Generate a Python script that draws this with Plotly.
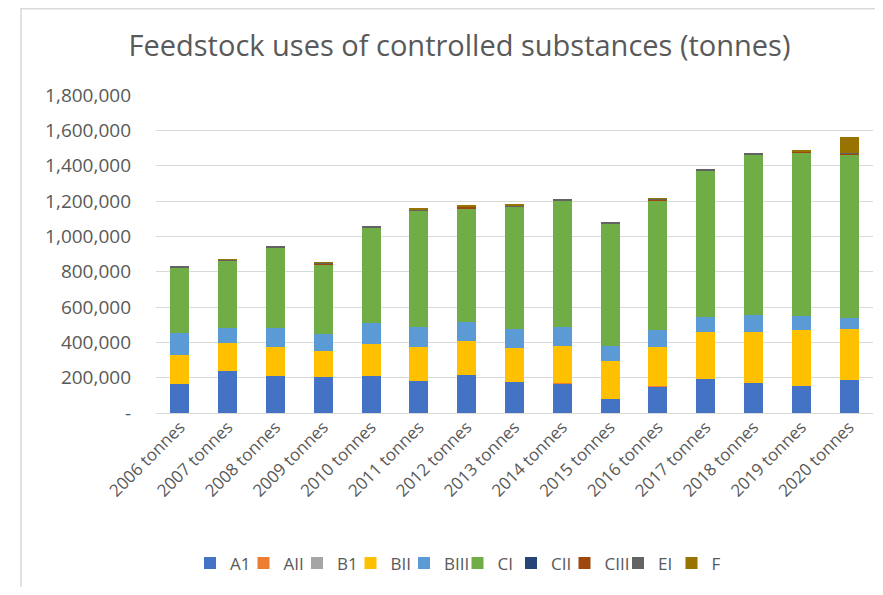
import plotly.graph_objects as go

years = ["2006 tonnes", "2007 tonnes", "2008 tonnes", "2009 tonnes", "2010 tonnes",
         "2011 tonnes", "2012 tonnes", "2013 tonnes", "2014 tonnes", "2015 tonnes",
         "2016 tonnes", "2017 tonnes", "2018 tonnes", "2019 tonnes", "2020 tonnes"]

A1   = [163000, 236000, 210000, 202000, 210000, 181000, 214000, 176000, 165000, 82000, 151000, 195000, 170000, 151000, 185000]
AII  = [0, 0, 0, 0, 0, 0, 0, 0, 3000, 0, 1000, 0, 0, 0, 0]
B1   = [0, 0, 0, 0, 0, 0, 0, 0, 0, 0, 0, 0, 0, 0, 0]
BII  = [164000, 159000, 164000, 148000, 178000, 193000, 192000, 192000, 214000, 213000, 222000, 261000, 286000, 318000, 289000]
BIII = [126000, 87000, 107000, 100000, 119000, 113000, 110000, 106000, 105000, 87000, 95000, 85000, 98000, 79000, 66000]
CI   = [368000, 380000, 454000, 391000, 541000, 657000, 643000, 693000, 714000, 692000, 732000, 829000, 912000, 925000, 926000]
CII  = [0, 0, 0, 0, 0, 0, 0, 0, 0, 0, 0, 0, 0, 0, 0]
CIII = [1000, 0, 0, 8000, 1000, 4000, 8000, 1000, 0, 0, 8000, 0, 0, 8000, 5000]
EI   = [6000, 5000, 5000, 3000, 5000, 6000, 2000, 8000, 5000, 7000, 3000, 6000, 6000, 1000, 1000]
F    = [0, 1000, 0, 1000, 0, 4000, 3000, 3000, 0, 0, 1000, 0, 0, 3000, 88000]

series_names = ["A1", "AII", "B1", "BII", "BIII", "CI", "CII", "CIII", "EI", "F"]
series_values = [A1, AII, B1, BII, BIII, CI, CII, CIII, EI, F]
colors = ["#4472C4", "#ED7D31", "#A5A5A5", "#FFC000", "#5B9BD5",
          "#70AD47", "#264478", "#9E480E", "#636363", "#997300"]

ytick_vals = [0, 200000, 400000, 600000, 800000, 1000000, 1200000, 1400000, 1600000, 1800000]
ytick_text = ["-", "200,000", "400,000", "600,000", "800,000", "1,000,000",
              "1,200,000", "1,400,000", "1,600,000", "1,800,000"]

FONT = "Open Sans"
GREY = "#595959"

fig = go.Figure()
for name, vals, col in zip(series_names, series_values, colors):
    fig.add_trace(go.Bar(x=years, y=vals, name=name, marker=dict(color=col, line=dict(width=0))))

# page has an 8px body margin: work in page pixels and convert
OFF = 8
W, H = 883 - 2 * OFF, 595 - 2 * OFF
L = 156 - OFF
R = W - (873 - OFF)
T = 95 - OFF
B = H - (412.7 - OFF)
pw = W - L - R
ph = H - T - B

def px_x(x):
    return (x - OFF - L) / pw

def px_y(y):
    return (H - B - (y - OFF)) / ph

fig.update_layout(
    width=W, height=H,
    barmode="stack", bargap=0.6,
    plot_bgcolor="white", paper_bgcolor="white",
    margin=dict(l=L, r=R, t=T, b=B, autoexpand=False),
    font=dict(family=FONT, color=GREY, size=17),
    title=dict(text="Feedstock uses of controlled substances (tonnes)",
               x=(459.5 - OFF) / W, xanchor="center", y=1 - (46 - OFF) / H, yanchor="middle",
               font=dict(family=FONT, size=29, color=GREY)),
    xaxis=dict(tickangle=-45, showgrid=False, showline=False, ticks="",
               tickfont=dict(size=17, color=GREY)),
    yaxis=dict(range=[0, 1800000], tickvals=ytick_vals, ticktext=ytick_text,
               showgrid=True, gridcolor="#D9D9D9", gridwidth=1.3, zeroline=True,
               zerolinecolor="#D9D9D9", zerolinewidth=1.3, showline=False, ticks="",
               ticklabelstandoff=24, tickfont=dict(size=19, color=GREY)),
    legend=dict(orientation="h", x=px_x(457.5), xanchor="center", y=px_y(563), yanchor="middle",
                font=dict(size=17, color=GREY), traceorder="normal", itemwidth=30,
                entrywidth=8.5, entrywidthmode="pixels"),
    showlegend=True,
)

fig.add_shape(type="rect", xref="paper", yref="paper",
              x0=px_x(21), x1=px_x(910), y0=px_y(620), y1=px_y(OFF + 0.8),
              line=dict(color="#D9D9D9", width=1.5), fillcolor="rgba(0,0,0,0)", layer="below")

fig.write_html("out.html", config={"displayModeBar": False})
